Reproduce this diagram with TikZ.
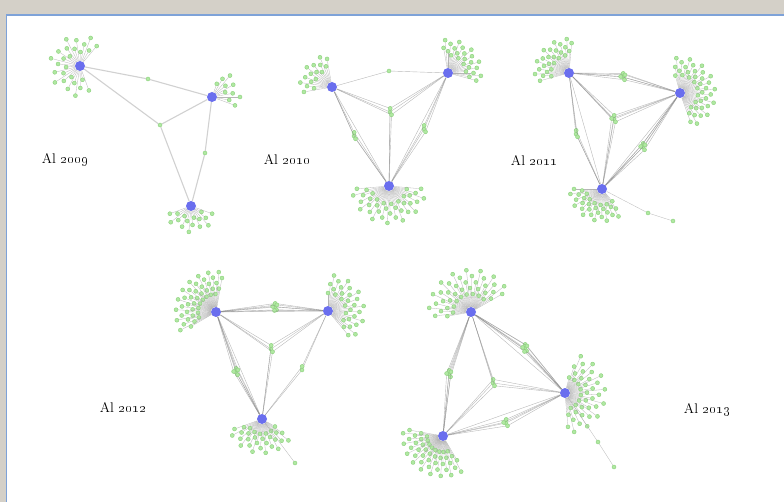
\documentclass[tikz,border=0pt]{standalone}
\usetikzlibrary{calc}

\definecolor{hubblue}{HTML}{6A6EEE}
\definecolor{leaffill}{HTML}{B0E8A2}
\definecolor{leafline}{HTML}{8AD07A}
\definecolor{framegray}{HTML}{D4D0C8}
\definecolor{frameblue}{HTML}{7EA2D8}

% fan of leaves round a hub: hub, from angle, to angle, count, min radius, max radius
\newcommand{\spray}[6]{%
  \foreach \k in {1,...,#4}{%
    \pgfmathsetmacro{\leafang}{#2+(#3-#2)*(\k-1)/(#4-1)}%
    \pgfmathsetmacro{\leafrad}{#5+(#6-#5)*mod(3*\k,5)/4}%
    \node[leaf] (#1-\k) at ($(#1)+({-\leafang}:\leafrad)$) {};
    \draw[spoke] (#1) -- (#1-\k);
  }}

% small cluster between hubs: name, position, count, hubs
\newcommand{\relay}[4]{%
  \foreach \k in {1,...,#3}{%
    \pgfmathsetmacro{\ox}{min(1,\k-1)*2.4*cos(137*\k)}%
    \pgfmathsetmacro{\oy}{min(1,\k-1)*3.6*sin(137*\k)}%
    \node[leaf] (#1-\k) at ($(#2)+(\ox,\oy)$) {};
    \foreach \h in {#4} \draw[link] (\h) -- (#1-\k);
  }}

\begin{document}
\begin{tikzpicture}[x=1pt, y=-1pt,
    hub/.style={circle, fill=hubblue, minimum size=10pt, inner sep=0pt},
    leaf/.style={circle, fill=leaffill, draw=leafline, line width=0.4pt, minimum size=4pt, inner sep=0pt},
    spoke/.style={draw=black!35, line width=0.3pt, opacity=0.8},
    link/.style={draw=black!50, line width=0.4pt, opacity=0.55},
    year/.style={font=\fontsize{14}{16}\selectfont, inner sep=0pt}]

    \useasboundingbox (0,0) rectangle (784,502);
    \fill[framegray] (0,0) rectangle (784,502);
    \fill[white] (6.5,15) rectangle (784,502);
    \draw[frameblue, line width=1.2pt] (6.5,502) -- (6.5,15) -- (784,15);

    % 2009
    \node[hub] (a9) at (80,66) {};
    \node[hub] (b9) at (212,97) {};
    \node[hub] (c9) at (191,206) {};
    \begin{scope}[link/.style={draw=black!18, line width=1.1pt}]
        \relay{m9ab}{148,79}{1}{a9,b9}
        \relay{m9}{160,125}{1}{a9,b9,c9}
        \relay{m9bc}{205,153}{1}{b9,c9}
    \end{scope}
    \spray{a9}{50}{290}{26}{14}{30}
    \spray{b9}{-20}{70}{10}{14}{28}
    \spray{c9}{200}{340}{16}{12}{26}
    \node[year] (y9) at (65,160) {Al \oldstylenums{2009}};

    % 2010
    \node[hub] (a10) at (332,87) {};
    \node[hub] (b10) at (448,73) {};
    \node[hub] (c10) at (389,186) {};
    \relay{m10ab}{389,71}{1}{a10,b10}
    \relay{m10}{390,112}{3}{a10,b10,c10}
    \relay{m10ac}{354,136}{3}{a10,c10}
    \relay{m10bc}{424,129}{3}{b10,c10}
    \draw[link] (a10) -- (c10);
    \draw[link] (b10) -- (c10);
    \spray{a10}{100}{190}{16}{18}{32}
    \spray{b10}{-15}{100}{24}{18}{33}
    \spray{c10}{185}{355}{36}{18}{37}
    \node[year] (y10) at (287,160) {Al \oldstylenums{2010}};

    % 2011
    \node[hub] (a11) at (569,73) {};
    \node[hub] (b11) at (680,93) {};
    \node[hub] (c11) at (602,189) {};
    \relay{m11ab}{623,77}{5}{a11,b11}
    \relay{m11}{614,119}{4}{a11,b11,c11}
    \relay{m11ac}{576,134}{3}{a11,c11}
    \relay{m11bc}{643,147}{5}{b11,c11}
    \draw[link] (a11) -- (c11);
    \draw[link] (b11) -- (c11);
    \spray{a11}{85}{195}{26}{18}{34}
    \spray{b11}{-70}{105}{40}{18}{35}
    \spray{c11}{180}{310}{30}{16}{32}
    \node[leaf] (t11a) at (648,213) {};
    \node[leaf] (t11b) at (673,221) {};
    \draw[spoke] (c11) -- (t11a) -- (t11b);
    \node[year] (y11) at (534,161) {Al \oldstylenums{2011}};

    % 2012
    \node[hub] (a12) at (216,312) {};
    \node[hub] (b12) at (328,311) {};
    \node[hub] (c12) at (262,419) {};
    \relay{m12ab}{275,307}{6}{a12,b12}
    \relay{m12}{271,349}{3}{a12,b12,c12}
    \relay{m12ac}{236,372}{5}{a12,c12}
    \relay{m12bc}{302,370}{2}{b12,c12}
    \draw[link] (a12) -- (b12);
    \draw[link] (a12) -- (c12);
    \spray{a12}{80}{210}{44}{18}{40}
    \spray{b12}{-50}{90}{30}{18}{36}
    \spray{c12}{200}{330}{30}{15}{34}
    \node[leaf] (t12a) at (295,463) {};
    \draw[spoke] (c12) -- (t12a);
    \node[year] (y12) at (123,408) {Al \oldstylenums{2012}};

    % 2013
    \node[hub] (a13) at (471,312) {};
    \node[hub] (b13) at (565,393) {};
    \node[hub] (c13) at (443,436) {};
    \relay{m13ab}{525,348}{6}{a13,b13}
    \relay{m13}{493,383}{3}{a13,b13,c13}
    \relay{m13ac}{449,374}{5}{a13,c13}
    \relay{m13bc}{506,423}{4}{b13,c13}
    \draw[link] (a13) -- (b13);
    \draw[link] (b13) -- (c13);
    \spray{a13}{30}{190}{42}{18}{42}
    \spray{b13}{-85}{75}{40}{16}{40}
    \spray{c13}{170}{300}{44}{16}{40}
    \node[leaf] (t13a) at (598,442) {};
    \node[leaf] (t13b) at (614,467) {};
    \draw[spoke] (b13) -- (t13a) -- (t13b);
    \node[year] (y13) at (707,410) {Al \oldstylenums{2013}};
\end{tikzpicture}
\end{document}
